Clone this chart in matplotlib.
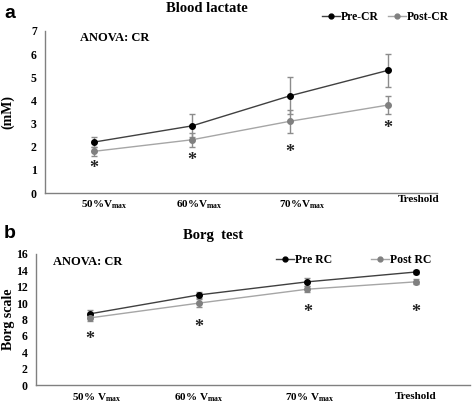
import matplotlib
matplotlib.use("Agg")
import matplotlib.pyplot as plt
from matplotlib.lines import Line2D
import matplotlib.transforms as mtransforms

plt.rcParams['font.family'] = ['Liberation Serif', 'DejaVu Serif']
plt.rcParams['font.weight'] = 'bold'
plt.rcParams['mathtext.fontset'] = 'custom'
plt.rcParams['mathtext.rm'] = 'Liberation Serif:bold'
plt.rcParams['mathtext.bf'] = 'Liberation Serif:bold'

# Panel a data
cats_a = [r'50%V$_{\mathbf{max}}$', r'60%V$_{\mathbf{max}}$', r'70%V$_{\mathbf{max}}$', 'Treshold']
pre_a = [2.2, 2.9, 4.2, 5.3]
pre_a_err = [0.2, 0.5, 0.8, 0.7]
post_a = [1.8, 2.3, 3.1, 3.8]
post_a_err = [0.2, 0.3, 0.5, 0.4]
star_a = [1.25, 1.6, 1.95, 2.95]

# Panel b data
cats_b = [r'50% V$_{\mathbf{max}}$', r'60% V$_{\mathbf{max}}$', r'70% V$_{\mathbf{max}}$', 'Treshold']
pre_b = [8.7, 11.0, 12.6, 13.8]
pre_b_err = [0.4, 0.4, 0.5, 0.3]
post_b = [8.2, 10.0, 11.7, 12.6]
post_b_err = [0.4, 0.5, 0.4, 0.3]
star_b = [6.1, 7.5, 9.35, 9.35]

W, H = 472, 407
fig = plt.figure(figsize=(W/100, H/100), dpi=100)

def box(l, r, top, bot):
    return [l/W, 1-bot/H, (r-l)/W, (bot-top)/H]

PRE_LINE = '#404040'
POST_LINE = '#a6a6a6'
ERR = '#8c8c8c'
SPINE = '#808080'

def style(ax, ymax, ystep):
    for s in ['top', 'right']:
        ax.spines[s].set_visible(False)
    for s in ['left', 'bottom']:
        ax.spines[s].set_color(SPINE)
        ax.spines[s].set_linewidth(1.0)
    ax.set_xlim(0, 4)
    ax.set_ylim(0, ymax)
    ax.set_yticks(range(0, ymax+1, ystep))
    ax.tick_params(axis='both', length=0, labelsize=8.5, pad=6)
    ax.set_xticks([])
    for t in ax.get_yticklabels():
        t.set_fontweight('bold')

def handles(l1, l2):
    return [Line2D([], [], color=PRE_LINE, lw=1, marker='o', ms=3.5, mfc='black', mec='black', label=l1),
            Line2D([], [], color=POST_LINE, lw=1, marker='o', ms=3.5, mfc='#808080', mec='#808080', label=l2)]

def stars(ax, xs, ys):
    tr = ax.transData + mtransforms.ScaledTranslation(0, -3/72, fig.dpi_scale_trans)
    for xi, yi in zip(xs, ys):
        ax.text(xi, yi, '*', ha='center', va='center', fontsize=13, color='#222222', transform=tr)

x = [0.5, 1.5, 2.5, 3.5]
ekw = dict(ecolor=ERR, elinewidth=1, capsize=2.5, capthick=1, marker='o', ms=4, lw=1)

# Panel a
ax1 = fig.add_axes(box(45, 437, 31, 193))
style(ax1, 7, 1)
ax1.errorbar(x, pre_a, yerr=pre_a_err, color=PRE_LINE, mfc='black', mec='black', **ekw)
ax1.errorbar(x, post_a, yerr=post_a_err, color=POST_LINE, mfc='#808080', mec='#808080', **ekw)
stars(ax1, x, star_a)
ax1.text(0.09, 0.955, 'ANOVA: CR', transform=ax1.transAxes, fontsize=9, fontweight='bold', va='center')
ax1.set_ylabel('(mM)', fontsize=10, fontweight='bold')
ax1.yaxis.set_label_coords((14-45)/392, 0.5)
lab_pos_a = [0.6, 1.57, 2.63, 3.81]
for xp, lab in zip(lab_pos_a, cats_a):
    ax1.text(xp, -0.24 if lab != 'Treshold' else -0.1, lab, ha='center', va='top', fontsize=8,
             fontweight='bold')
fig.legend(handles=handles('Pre-CR', 'Post-CR'), loc='center left', bbox_to_anchor=(322/W, 1-17/H),
           ncol=2, frameon=False, fontsize=8.5, handlelength=1.5, handletextpad=0.1,
           columnspacing=0.8, borderaxespad=0, borderpad=0)
fig.text(207/W, 1-9/H, 'Blood lactate', ha='center', va='center', fontsize=10.5, fontweight='bold')
fig.text(10/W, 1-14/H, 'a', ha='center', va='center', fontsize=14, fontweight='bold', family='Liberation Sans')

# Panel b
ax2 = fig.add_axes(box(36, 470, 254, 385))
style(ax2, 16, 2)
ax2.errorbar(x, pre_b, yerr=pre_b_err, color=PRE_LINE, mfc='black', mec='black', **ekw)
ax2.errorbar(x, post_b, yerr=post_b_err, color=POST_LINE, mfc='#808080', mec='#808080', **ekw)
stars(ax2, x, star_b)
ax2.text(0.04, 0.94, 'ANOVA: CR', transform=ax2.transAxes, fontsize=9, fontweight='bold', va='center')
ax2.set_ylabel('Borg scale', fontsize=10, fontweight='bold')
ax2.yaxis.set_label_coords((15-36)/434, 0.5)
lab_pos_b = [0.56, 1.5, 2.52, 3.5]
for xp, lab in zip(lab_pos_b, cats_b):
    ax2.text(xp, -0.75 if lab != 'Treshold' else -0.9, lab, ha='center', va='top', fontsize=8,
             fontweight='bold')
fig.legend(handles=handles('Pre RC', 'Post RC'), loc='center left', bbox_to_anchor=(276/W, 1-260/H),
           ncol=2, frameon=False, fontsize=8.5, handlelength=1.5, handletextpad=0.1,
           columnspacing=3.3, borderaxespad=0, borderpad=0)
fig.text(213/W, 1-236/H, 'Borg  test', ha='center', va='center', fontsize=10.5, fontweight='bold')
fig.text(10/W, 1-233/H, 'b', ha='center', va='center', fontsize=14, fontweight='bold', family='Liberation Sans')

fig.savefig('out.png', dpi=100)
